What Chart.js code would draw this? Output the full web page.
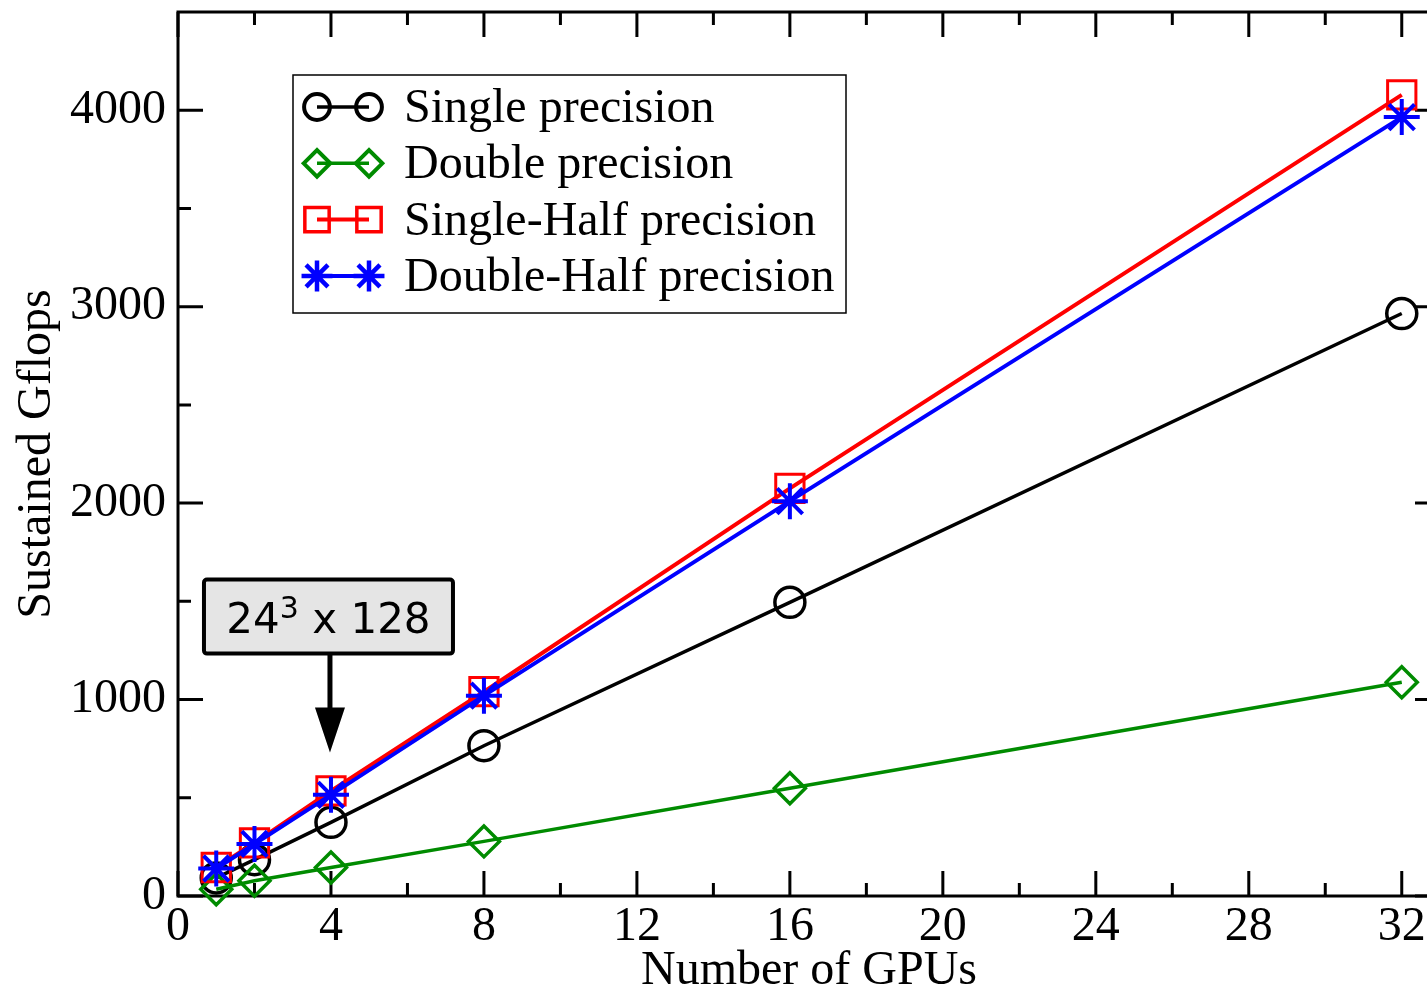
<!DOCTYPE html>
<html>
<head>
<meta charset="utf-8">
<script src="https://cdn.jsdelivr.net/npm/chart.js@4.4.1/dist/chart.umd.min.js"></script>
<style>
  html, body { margin: 0; padding: 0; background: #fff; overflow: hidden; }
  #wrap { width: 1445px; height: 989px; }
</style>
</head>
<body>
<div id="wrap"><canvas id="gpuChart" width="1445" height="989"></canvas></div>
<script>
// number of GPUs on the x axis
const gpus = [1, 2, 4, 8, 16, 32];

// sustained Gflops
const singlePrec     = [92, 185, 375, 765, 1495, 2965];
const doublePrec     = [34, 78, 145, 278, 548, 1088];
const singleHalfPrec = [145, 270, 535, 1040, 2075, 4078];
const doubleHalfPrec = [140, 265, 515, 1020, 2010, 3965];

const seriesLabels = ['Single precision', 'Double precision', 'Single-Half precision', 'Double-Half precision'];

const xTicks = [0, 4, 8, 12, 16, 20, 24, 28, 32];
const xMinor = [2, 6, 10, 14, 18, 22, 26, 30];
const yTicks = [0, 1000, 2000, 3000, 4000];
const yMinor = [500, 1500, 2500, 3500];

// the boxed note with the arrow: "24^3 x 128"
const notePieces = ['24', '3', ' x 128'];
const noteAt = { x: 4, y: 730 };

const serif = '"Liberation Serif", "Times New Roman", serif';

function pts(vals) {
  return gpus.map((g, i) => ({ x: g, y: vals[i] }));
}

function noPad(s) {
  s.paddingTop = 0; s.paddingBottom = 0;
  s.paddingLeft = 0; s.paddingRight = 0;
}

// frame on all four sides, ticks pointing inward
const frameTicks = {
  id: 'frameTicks',
  beforeDatasetsDraw(chart) {
    const { ctx, chartArea: a, scales: { x, y } } = chart;
    ctx.save();
    ctx.strokeStyle = '#000';
    ctx.lineWidth = 3;
    ctx.strokeRect(a.left, a.top, a.right - a.left, a.bottom - a.top);
    ctx.beginPath();
    const xt = (v, len) => {
      const px = x.getPixelForValue(v);
      ctx.moveTo(px, a.bottom); ctx.lineTo(px, a.bottom - len);
      ctx.moveTo(px, a.top); ctx.lineTo(px, a.top + len);
    };
    const yt = (v, len) => {
      const py = y.getPixelForValue(v);
      ctx.moveTo(a.left, py); ctx.lineTo(a.left + len, py);
      ctx.moveTo(a.right, py); ctx.lineTo(a.right - len, py);
    };
    xTicks.forEach(v => xt(v, 25));
    xMinor.forEach(v => xt(v, 13));
    yTicks.forEach(v => yt(v, 25));
    yMinor.forEach(v => yt(v, 13));
    ctx.stroke();
    ctx.restore();
  }
};

// legend box inside the plot
const boxLegend = {
  id: 'boxLegend',
  afterDatasetsDraw(chart) {
    const ctx = chart.ctx;
    const left = 293, top = 75, w = 553, h = 238;
    ctx.save();
    ctx.fillStyle = '#fff';
    ctx.fillRect(left, top, w, h);
    ctx.strokeStyle = '#000';
    ctx.lineWidth = 1.5;
    ctx.strokeRect(left, top, w, h);

    chart.data.datasets.forEach((ds, i) => {
      const yy = 107 + i * 56.3;
      const x1 = 317, x2 = 369;
      ctx.strokeStyle = ds.borderColor;
      ctx.lineWidth = ds.borderWidth;
      ctx.beginPath();
      ctx.moveTo(x1, yy);
      ctx.lineTo(x2, yy);
      ctx.stroke();
      ctx.fillStyle = 'rgba(0,0,0,0)';
      ctx.lineWidth = ds.pointBorderWidth + 0.5;
      [x1, x2].forEach(px => {
        Chart.helpers.drawPoint(ctx, {
          pointStyle: ds.pointStyle,
          radius: ds.pointRadius * 0.86,
          rotation: 0,
          borderWidth: ds.pointBorderWidth + 0.5
        }, px, yy);
      });
      ctx.fillStyle = '#000';
      ctx.font = '48px ' + serif;
      ctx.textAlign = 'left';
      ctx.textBaseline = 'alphabetic';
      ctx.fillText(ds.label, 404, yy + 15);
    });
    ctx.restore();
  }
};

// note box with arrow pointing down at x = 4
const noteArrow = {
  id: 'noteArrow',
  afterDraw(chart) {
    const { ctx, scales: { x, y } } = chart;
    const tipX = x.getPixelForValue(noteAt.x) - 1;
    const tipY = y.getPixelForValue(noteAt.y);
    const boxW = 249, boxH = 74;
    const boxL = tipX - 126, boxB = tipY - 99;
    ctx.save();
    ctx.strokeStyle = '#000';
    ctx.lineWidth = 5;
    ctx.beginPath();
    ctx.moveTo(tipX, boxB);
    ctx.lineTo(tipX, tipY - 40);
    ctx.stroke();
    ctx.fillStyle = '#000';
    ctx.beginPath();
    ctx.moveTo(tipX - 15, tipY - 45);
    ctx.lineTo(tipX + 15, tipY - 45);
    ctx.lineTo(tipX, tipY);
    ctx.closePath();
    ctx.fill();
    ctx.fillStyle = '#e5e5e5';
    ctx.lineWidth = 4;
    ctx.beginPath();
    ctx.roundRect(boxL, boxB - boxH, boxW, boxH, 3);
    ctx.fill();
    ctx.stroke();

    // text with a raised exponent
    const big = '42px "DejaVu Sans", sans-serif';
    const small = '30px "DejaVu Sans", sans-serif';
    ctx.textBaseline = 'alphabetic';
    ctx.textAlign = 'left';
    ctx.font = big;
    const w0 = ctx.measureText(notePieces[0]).width;
    const w2 = ctx.measureText(notePieces[2]).width;
    ctx.font = small;
    const w1 = ctx.measureText(notePieces[1]).width;
    const total = w0 + w1 + w2;
    let tx = boxL + (boxW - total) / 2;
    const base = boxB - boxH / 2 + 16;
    ctx.fillStyle = '#000';
    ctx.font = big;
    ctx.fillText(notePieces[0], tx, base);
    tx += w0;
    ctx.font = small;
    ctx.fillText(notePieces[1], tx, base - 15);
    tx += w1;
    ctx.font = big;
    ctx.fillText(notePieces[2], tx, base);
    ctx.restore();
  }
};

const ctx = document.getElementById('gpuChart').getContext('2d');
const gpuChart = new Chart(ctx, {
  type: 'line',
  data: {
    datasets: [
      { label: seriesLabels[0], data: pts(singlePrec), borderColor: '#000', borderWidth: 3.5,
        pointStyle: 'circle', pointRadius: 15, pointBorderWidth: 3.5, order: 3 },
      { label: seriesLabels[1], data: pts(doublePrec), borderColor: '#008b00', borderWidth: 3.5,
        pointStyle: 'rectRot', pointRadius: 15.5, pointBorderWidth: 3.5, order: 2 },
      { label: seriesLabels[2], data: pts(singleHalfPrec), borderColor: '#ff0000', borderWidth: 4,
        pointStyle: 'rect', pointRadius: 20, pointBorderWidth: 3, order: 1 },
      { label: seriesLabels[3], data: pts(doubleHalfPrec), borderColor: '#0000ff', borderWidth: 4,
        pointStyle: 'star', pointRadius: 18, pointBorderWidth: 4, order: 0 }
    ].map(ds => Object.assign(ds, {
      pointBorderColor: ds.borderColor,
      pointBackgroundColor: 'rgba(0,0,0,0)',
      fill: false,
      tension: 0,
      clip: false
    }))
  },
  options: {
    responsive: false,
    animation: false,
    layout: { autoPadding: false, padding: { top: 12, right: 5, left: 0, bottom: 0 } },
    plugins: { legend: { display: false }, tooltip: { enabled: false } },
    scales: {
      x: {
        type: 'linear',
        min: 0,
        max: 33,
        grid: { display: false, drawTicks: false },
        border: { display: false },
        afterBuildTicks: s => { s.ticks = xTicks.map(v => ({ value: v })); },
        afterFit: s => { s.height = 93; noPad(s); },
        ticks: { color: '#000', padding: 3, maxRotation: 0, autoSkip: false,
                 callback: v => String(v),
                 font: { family: serif, size: 48, lineHeight: 1.2 } },
        title: { display: true, text: 'Number of GPUs', color: '#000',
                 padding: { top: 0, bottom: 0 },
                 font: { family: serif, size: 48, lineHeight: 0.74 } }
      },
      y: {
        min: 0,
        max: 4500,
        grid: { display: false, drawTicks: false },
        border: { display: false },
        afterBuildTicks: s => { s.ticks = yTicks.map(v => ({ value: v })); },
        afterFit: s => { s.width = 178; noPad(s); },
        ticks: { color: '#000', padding: 12, autoSkip: false,
                 callback: v => String(v),
                 font: { family: serif, size: 48, lineHeight: 1.2 } },
        title: { display: true, text: 'Sustained Gflops', color: '#000',
                 padding: { top: 13, bottom: 0 },
                 font: { family: serif, size: 48, lineHeight: 1 } }
      }
    }
  },
  plugins: [frameTicks, boxLegend, noteArrow]
});
</script>
</body>
</html>
